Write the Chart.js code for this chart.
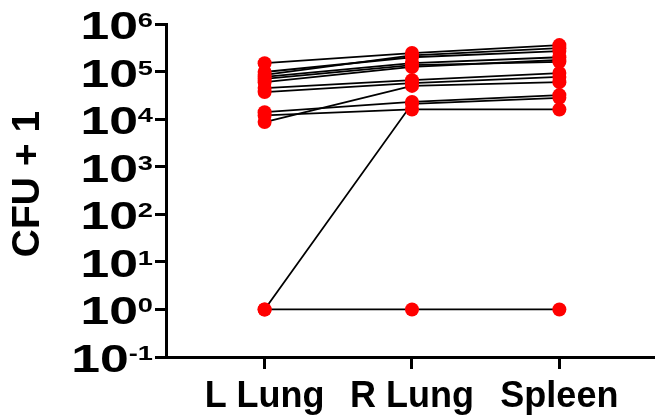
<!DOCTYPE html>
<html><head><meta charset="utf-8">
<script src="https://cdn.jsdelivr.net/npm/chart.js@4"></script>
<style>html,body{margin:0;padding:0;background:#fff;overflow:hidden}</style>
</head><body>
<canvas id="c" width="661" height="420" style="display:block;width:661px;height:420px"></canvas>
<script>
const categories = ['L Lung', 'R Lung', 'Spleen'];
// one entry per animal (CFU + 1)
const lLung  = [150000, 98000, 85000, 77000, 70000, 60000, 37000, 45000, 8700, 14000, 12000, 1, 1];
const rLung  = [245000, 200000, 220000, 150000, 137000, 125000, 57000, 66000, 50000, 23000, 16000, 21000, 1];
const spleen = [360000, 270000, 310000, 200000, 160000, 175000, 77000, 93000, 60000, 32000, 16000, 28000, 1];
const yTickValues = [0.1, 1, 10, 100, 1000, 10000, 100000, 1000000];
const yTitle = 'CFU + 1';

const FAM = 'Arial, "Liberation Sans", sans-serif';

const lineSets = lLung.map((v, i) => ({
  data: [{x: 0, y: lLung[i]}, {x: 1, y: rLung[i]}, {x: 2, y: spleen[i]}],
  showLine: true,
  borderColor: '#000',
  borderWidth: 1.8,
  pointRadius: 0,
  fill: false,
  order: 2,
  clip: false
}));
const pointData = [];
lLung.forEach(v => pointData.push({x: 0, y: v}));
rLung.forEach(v => pointData.push({x: 1, y: v}));
spleen.forEach(v => pointData.push({x: 2, y: v}));

const yLabelPlugin = {
  id: 'yLabels',
  afterDraw(chart) {
    const ctx = chart.ctx, s = chart.scales.y;
    const sx = 1.36, right = 153;
    ctx.save();
    ctx.fillStyle = '#000';
    ctx.textAlign = 'left';
    ctx.textBaseline = 'alphabetic';
    s.ticks.forEach(t => {
      const y = s.getPixelForValue(t.value);
      const exp = String(Math.round(Math.log10(t.value)));
      ctx.font = 'bold 20px ' + FAM;
      const ew = ctx.measureText(exp).width * sx;
      ctx.font = 'bold 38px ' + FAM;
      const bw = ctx.measureText('10').width * sx;
      ctx.save(); ctx.translate(right - ew - bw, y + 15); ctx.scale(sx, 1);
      ctx.fillText('10', 0, 0); ctx.restore();
      ctx.font = 'bold 20px ' + FAM;
      ctx.save(); ctx.translate(right - ew, y + 3); ctx.scale(sx, 1);
      ctx.fillText(exp, 0, 0); ctx.restore();
    });
    ctx.save();
    ctx.translate(28, 184);
    ctx.rotate(-Math.PI / 2);
    ctx.font = 'bold 39px ' + FAM;
    ctx.textAlign = 'center';
    ctx.textBaseline = 'middle';
    ctx.fillText(yTitle, 0, 0);
    ctx.restore();
    ctx.restore();
  }
};

new Chart(document.getElementById('c'), {
  type: 'scatter',
  data: {
    datasets: [
      ...lineSets,
      {data: pointData, pointRadius: 7, pointBackgroundColor: '#ff0000', pointBorderWidth: 0,
       borderWidth: 0, showLine: false, order: 1, clip: false}
    ]
  },
  options: {
    responsive: false,
    animation: false,
    devicePixelRatio: 1,
    layout: {padding: {top: 24, right: 0, left: 0, bottom: 0}},
    plugins: {legend: {display: false}, tooltip: {enabled: false}},
    scales: {
      x: {
        type: 'linear', min: -0.669, max: 2.642,
        afterBuildTicks: s => { s.ticks = [0, 1, 2].map(v => ({value: v})); },
        afterFit: s => { s.height = 63; },
        ticks: {callback: v => categories[v], font: {family: FAM, weight: 'bold', size: 36},
                color: '#000', padding: 6, maxRotation: 0, autoSkip: false},
        grid: {drawOnChartArea: false, tickLength: 12, tickColor: '#000', tickWidth: 3},
        border: {color: '#000', width: 3}
      },
      y: {
        type: 'logarithmic', min: 0.1, max: 1000000,
        afterBuildTicks: s => { s.ticks = yTickValues.map(v => ({value: v})); },
        afterFit: s => { s.width = 166; },
        ticks: {display: false},
        grid: {drawOnChartArea: false, tickLength: 11, tickColor: '#000', tickWidth: 3},
        border: {color: '#000', width: 3}
      }
    }
  },
  plugins: [yLabelPlugin]
});
</script>
</body></html>
